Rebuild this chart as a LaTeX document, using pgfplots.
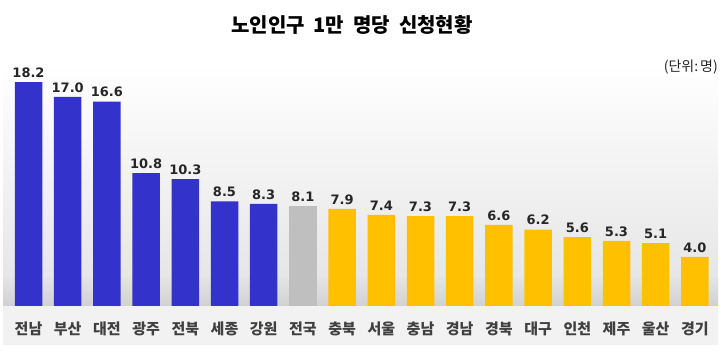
\documentclass[border=0pt]{standalone}
\usepackage{pgfplots}
\pgfplotsset{compat=1.18}
\usepackage{fontspec}
\setmainfont{DejaVu Sans}
\newfontfamily\kr{Noto Sans CJK KR}
\newfontfamily\num{DejaVu Sans}
\definecolor{barblue}{HTML}{3333CC}
\definecolor{bargray}{HTML}{BFBFBF}
\definecolor{baryel}{HTML}{FFC000}
\definecolor{lbl}{HTML}{404040}
\begin{document}
\begin{tikzpicture}
\path (0,0) rectangle (727bp,359bp);
% plot area background
\shade[top color=white, bottom color=black!11] (3bp,53bp) rectangle (718bp,294bp);
\shade[top color=black!11, bottom color=black!18] (3bp,53bp) rectangle (718bp,80bp);
\fill[black!5] (3bp,14bp) rectangle (718bp,53bp);
% title
\node[font=\kr\bfseries\fontsize{20bp}{23bp}\selectfont, anchor=center] at (352bp,334.5bp) {노인인구\hspace{9bp}1만\hspace{9bp}명당\hspace{9bp}신청현황};
\node[font=\kr\fontsize{14bp}{16bp}\selectfont, text=black!85, anchor=east, inner sep=0pt] at (718bp,292bp) {(단위:\hspace{2bp}명)};
\begin{axis}[
  at={(8.9bp,53bp)}, anchor=south west,
  scale only axis, width=705.6bp, height=239bp,
  xmin=-0.5, xmax=17.5, ymin=0, ymax=19.42,
  axis line style={draw=none},
  major tick length=0pt,
  xtick={0,...,17},
  xticklabels={전남,부산,대전,광주,전북,세종,강원,전국,충북,서울,충남,경남,경북,대구,인천,제주,울산,경기},
  xticklabel style={font=\kr\bfseries\fontsize{15bp}{17bp}\selectfont, text=lbl, anchor=base, yshift=-29bp},
  ytick=\empty,
  ybar, bar width=27.5bp, bar shift=0pt,
  nodes near coords,
  every node near coord/.append style={font=\num\bfseries\fontsize{13bp}{15bp}\selectfont, text=black!85,
    /pgf/number format/fixed, /pgf/number format/precision=1, /pgf/number format/fixed zerofill,
    /pgf/number format/assume math mode=true, yshift=1bp},
  clip=false,
]
\addplot[draw=none, fill=barblue] coordinates {(0,18.2) (1,17.0) (2,16.6) (3,10.8) (4,10.3) (5,8.5) (6,8.3)};
\addplot[draw=none, fill=bargray] coordinates {(7,8.1)};
\addplot[draw=none, fill=baryel] coordinates {(8,7.9) (9,7.4) (10,7.3) (11,7.3) (12,6.6) (13,6.2) (14,5.6) (15,5.3) (16,5.1) (17,4.0)};
\end{axis}
\end{tikzpicture}
\end{document}
